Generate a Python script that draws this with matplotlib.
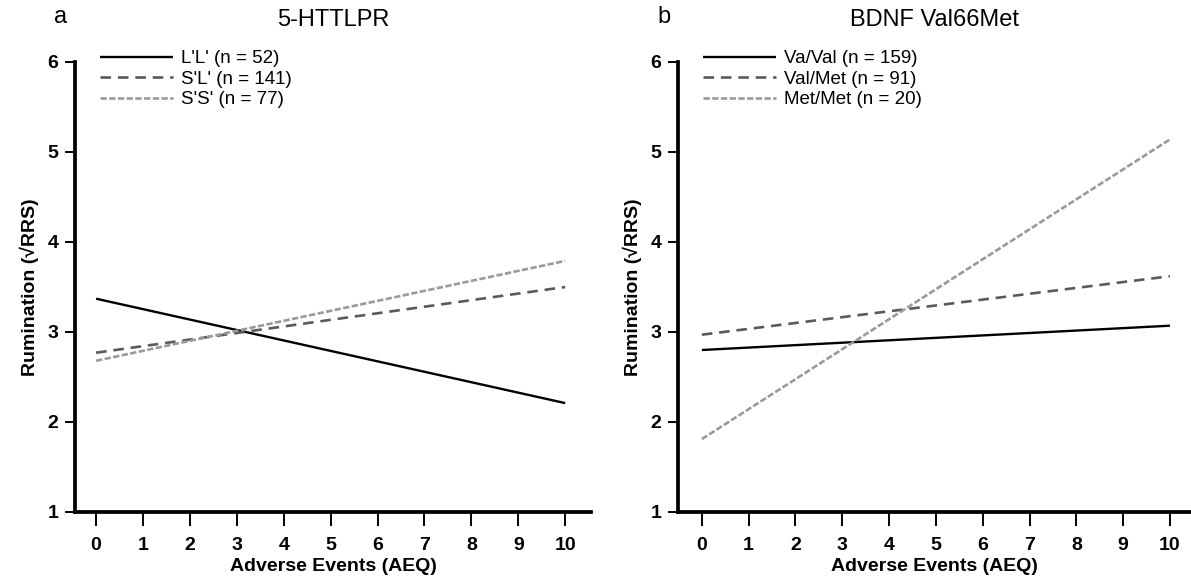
import matplotlib
matplotlib.use("Agg")
import matplotlib.pyplot as plt

plt.rcParams['font.family'] = ['Liberation Sans', 'DejaVu Sans']

# end points of the fitted lines (AEQ = 0 and AEQ = 10)
aeq = [0, 10]

httlpr_labels = ["L'L' (n = 52)", "S'L' (n = 141)", "S'S' (n = 77)"]
httlpr_LL = [3.37, 2.21]
httlpr_SL = [2.77, 3.50]
httlpr_SS = [2.68, 3.79]

bdnf_labels = ["Va/Val (n = 159)", "Val/Met (n = 91)", "Met/Met (n = 20)"]
bdnf_ValVal = [2.80, 3.07]
bdnf_ValMet = [2.97, 3.62]
bdnf_MetMet = [1.81, 5.14]

xticks = list(range(0, 11))
yticks = [1, 2, 3, 4, 5, 6]

styles = [
    dict(color='black', linestyle='-', linewidth=1.7),
    dict(color='#5a5a5a', linestyle=(0, (4, 2.6)), linewidth=1.9),
    dict(color='#9a9a9a', linestyle=(0, (2.4, 0.9)), linewidth=1.9),
]

fig = plt.figure(figsize=(11.91, 5.85), dpi=100)
W, H = 1191.0, 585.0
ax1 = fig.add_axes([75 / W, (H - 512) / H, 516 / W, 450 / H])
ax2 = fig.add_axes([678 / W, (H - 512) / H, 513 / W, 450 / H])


def setup(ax, series, labels, title, letter, xlim):
    for ys, lab, st in zip(series, labels, styles):
        ax.plot(aeq, ys, label=lab, solid_capstyle='butt', **st)
    ax.set_xlim(*xlim)
    ax.set_ylim(1, 6)
    ax.set_xticks(xticks)
    ax.set_xticklabels([str(v) for v in xticks], fontweight='bold', fontsize=14)
    ax.set_yticks(yticks)
    ax.set_yticklabels([str(v) for v in yticks], fontweight='bold', fontsize=14)
    for s in ['top', 'right']:
        ax.spines[s].set_visible(False)
    for s in ['left', 'bottom']:
        ax.spines[s].set_linewidth(2.7)
    ax.tick_params(axis='both', direction='out', width=1.4, color='black')
    ax.tick_params(axis='x', length=10, pad=8)
    ax.tick_params(axis='y', length=7, pad=5)
    ax.set_xlabel('Adverse Events (AEQ)', fontsize=14, fontweight='bold', labelpad=3)
    ax.set_ylabel('Rumination (\u221aRRS)', fontsize=14, fontweight='bold', labelpad=6)
    ax.set_title(title, fontsize=17, pad=26)
    ax.text(-0.028, 1.075, letter, transform=ax.transAxes, fontsize=17,
            ha='center', va='bottom')
    ax.legend(loc='upper left', bbox_to_anchor=(0.048, 1.026), frameon=False,
              fontsize=13.5, handlelength=3.9, handletextpad=0.45,
              labelspacing=0.18, borderaxespad=0, borderpad=0)


setup(ax1, [httlpr_LL, httlpr_SL, httlpr_SS], httlpr_labels, '5-HTTLPR', 'a', (-0.45, 10.55))
setup(ax2, [bdnf_ValVal, bdnf_ValMet, bdnf_MetMet], bdnf_labels, 'BDNF Val66Met', 'b', (-0.51, 10.45))

fig.savefig('out.png', dpi=100)
